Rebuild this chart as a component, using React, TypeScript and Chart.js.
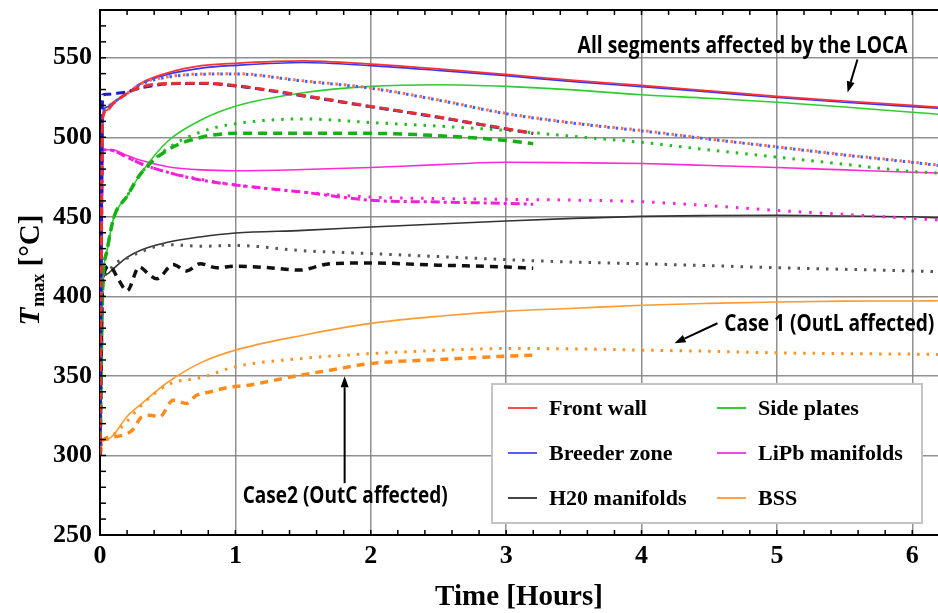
import { useEffect, useRef } from 'react';
import { Chart, registerables } from 'chart.js';
Chart.register(...registerables);

// ---------- data ----------
const xTicks = [0, 1, 2, 3, 4, 5, 6];
const yTicks = [250, 300, 350, 400, 450, 500, 550];

const tLong = [0, 0.02, 0.05, 0.1, 0.2, 0.3, 0.5, 0.75, 1, 1.5, 2, 2.5, 3, 3.5, 4, 4.5, 5, 5.5, 6, 6.19];
const tShort = [0, 0.02, 0.05, 0.1, 0.2, 0.3, 0.5, 0.75, 1, 1.5, 2, 2.5, 3, 3.2];
const tH2OCase2 = [0, 0.02, 0.07, 0.14, 0.2, 0.29, 0.36, 0.42, 0.54, 0.64, 0.74, 0.86, 1.0, 1.25, 1.47, 1.7, 2, 2.5, 3, 3.2];
const tBSSCase2 = [0, 0.02, 0.09, 0.17, 0.24, 0.31, 0.37, 0.44, 0.54, 0.64, 0.71, 0.81, 0.96, 1.08, 1.475, 1.7, 2, 2.5, 3, 3.2];

// All segments affected by the LOCA (solid)
const frontAll = [300, 512, 517, 521.5, 527.5, 534, 540.5, 545, 546.5, 548, 546, 543, 539.5, 535.8, 532.6, 529.2, 525.7, 522.8, 520, 519];
const breederAll = [300, 514, 519, 522, 527.5, 533.5, 539.5, 543.5, 545.2, 547, 545, 542, 538.7, 535, 531.8, 528.5, 525, 522, 519.3, 518.3];
const sideAll = [300, 405, 428, 449, 463, 477, 497.5, 511, 519.5, 528, 532, 533, 532, 529.8, 526.7, 524.5, 522, 519, 515.7, 514.5];
const lipbAll = [300, 492, 492.2, 492, 488.5, 485.5, 481.5, 479.5, 479, 479.7, 481, 482.8, 484.3, 484, 483.5, 482.3, 481, 479.5, 478, 477.5];
const h2oAll = [300, 410, 414, 417.5, 424.5, 429, 434, 437.5, 439.8, 441.5, 443.6, 445.5, 447.4, 449, 450.3, 450.8, 451, 450.5, 450, 449.5];
const bssAll = [300, 309.6, 310, 313, 324.5, 332, 346, 358.5, 366.2, 375.6, 383, 387.5, 390.7, 392.5, 394.4, 395.6, 396.5, 397, 397.1, 397.2];

// Case 1 (OutL affected) (dotted)
const frontCase1 = [300, 512, 517, 521.5, 527.5, 533.5, 538, 539.8, 540, 535.5, 531, 523.5, 515, 509, 504.3, 499, 494, 489, 484.4, 482.5];
const breederCase1 = [300, 514, 519, 522, 527.5, 533.3, 537.8, 539.6, 539.8, 535.3, 530.8, 523.3, 514.8, 508.8, 504, 498.8, 493.8, 488.8, 484.2, 482.3];
const sideCase1 = [300, 405, 428, 449, 463, 477, 493, 503.5, 508.5, 511.5, 509.3, 507, 504.3, 500.5, 496.8, 492, 487.5, 483, 478.5, 477.5];
const lipbCase1 = [300, 492, 492.2, 491.5, 487.5, 483.5, 478, 473.5, 470, 465.5, 462.4, 461.5, 461, 460.5, 459.5, 457, 454, 451.5, 449, 448];
const h2oCase1 = [300, 410, 414, 420, 424, 428, 432.5, 431.5, 432, 428.7, 426.9, 425, 423.1, 421.5, 420.5, 419.3, 418, 417, 416, 415.5];
const bssCase1 = [300, 309.6, 310, 313, 321.5, 331, 344.5, 349, 355.8, 361, 364, 366, 367.2, 367, 366.2, 365.5, 364.5, 364, 363.7, 363.5];

// Case 2 (OutC affected) (dashed)
const frontCase2 = [300, 512, 517, 521.5, 527.5, 531.5, 533.8, 534, 532.5, 526.3, 519.4, 512.7, 505.4, 502.6];
const breederCase2 = [300, 526.5, 527, 527.4, 528.5, 531, 533.5, 533.8, 532.3, 526, 519.2, 512.5, 505.2, 502.4];
const sideCase2 = [300, 405, 428, 449, 463, 477, 492, 500, 502.5, 502.6, 502.5, 501, 498, 496];
const lipbCase2 = [300, 492, 492.2, 491.5, 487.5, 483.5, 478, 473, 470, 465.5, 460.4, 459.3, 458.4, 457.9];
const h2oCase2 = [300, 410, 419, 410, 403.5, 418.5, 414, 411, 420, 416, 420.5, 418, 419, 418, 416.5, 420.5, 421, 419.6, 418.5, 417.6];
const bssCase2 = [300, 309.6, 311.7, 312.8, 316, 324.4, 325.3, 324.3, 334.7, 332.7, 337.7, 339.9, 343, 344, 350.4, 353.6, 357.8, 360.3, 362.4, 363];

const legendLabels = ['Front wall', 'Breeder zone', 'H20 manifolds', 'Side plates', 'LiPb manifolds', 'BSS'];
const legendColors = ['#ff4a4a', '#5a5aff', '#444444', '#33cc33', '#ff44ee', '#ffa04a'];

// ---------- helpers ----------
const SERIF = '"Liberation Serif", "Times New Roman", serif';
const SANS = '"Open Sans", "Liberation Sans", sans-serif';

const pts = (t: number[], v: number[]) => t.map((x, i) => ({ x, y: v[i] }));

function mk(label: string, t: number[], v: number[], color: string, width: number, dash: number[] = [], offset = 0) {
  return {
    label,
    data: pts(t, v),
    borderColor: color,
    backgroundColor: color,
    borderWidth: width,
    borderDash: dash,
    borderDashOffset: offset,
    pointRadius: 0,
    fill: false,
    cubicInterpolationMode: 'monotone' as const,
  };
}

function arrow(ctx: CanvasRenderingContext2D, x1: number, y1: number, x2: number, y2: number) {
  const head = 11, w = 8;
  const ang = Math.atan2(y2 - y1, x2 - x1);
  const bx = x2 - head * Math.cos(ang), by = y2 - head * Math.sin(ang);
  ctx.beginPath();
  ctx.moveTo(x1, y1);
  ctx.lineTo(bx, by);
  ctx.stroke();
  ctx.beginPath();
  ctx.moveTo(x2, y2);
  ctx.lineTo(bx + (w / 2) * Math.sin(ang), by - (w / 2) * Math.cos(ang));
  ctx.lineTo(bx - (w / 2) * Math.sin(ang), by + (w / 2) * Math.cos(ang));
  ctx.closePath();
  ctx.fill();
}

function fitText(ctx: CanvasRenderingContext2D, text: string, x: number, y: number, width: number) {
  const m = ctx.measureText(text).width;
  ctx.save();
  ctx.translate(x, y);
  ctx.scale(width / m, 1);
  ctx.fillText(text, 0, 0);
  ctx.restore();
}

const decorPlugin = {
  id: 'decor',
  afterDatasetsDraw(chart: any) {
    const { ctx, chartArea: a, scales } = chart;
    const xs = scales.x, ys = scales.y;
    ctx.save();
    ctx.strokeStyle = '#000';
    ctx.lineWidth = 1.5;
    for (let i = 0; i <= 31; i++) {
      const v = i * 0.2;
      if (v > xs.max) break;
      const px = xs.getPixelForValue(v);
      ctx.beginPath();
      ctx.moveTo(px, a.bottom);
      ctx.lineTo(px, a.bottom - 5);
      ctx.moveTo(px, a.top);
      ctx.lineTo(px, a.top + 5);
      ctx.stroke();
    }
    for (let v = 250; v <= 580; v += 10) {
      const py = ys.getPixelForValue(v);
      ctx.beginPath();
      ctx.moveTo(a.left, py);
      ctx.lineTo(a.left + 6, py);
      ctx.stroke();
    }
    ctx.lineWidth = 2;
    ctx.beginPath();
    ctx.moveTo(a.left, a.top);
    ctx.lineTo(a.right, a.top);
    ctx.stroke();
    ctx.restore();
  },
  afterDraw(chart: any) {
    const { ctx, chartArea: a, scales } = chart;
    const xs = scales.x, ys = scales.y;
    const X = (v: number) => xs.getPixelForValue(v);
    const Y = (v: number) => ys.getPixelForValue(v);
    ctx.save();

    // legend box
    const lx = 492, ly = 384, lw = 430, lh = 139;
    ctx.fillStyle = '#fff';
    ctx.fillRect(lx, ly, lw, lh);
    ctx.strokeStyle = '#c4c4c4';
    ctx.lineWidth = 2;
    ctx.strokeRect(lx, ly, lw, lh);
    ctx.font = `bold 22px ${SERIF}`;
    ctx.textBaseline = 'middle';
    ctx.textAlign = 'left';
    legendLabels.forEach((lab, i) => {
      const col = Math.floor(i / 3), row = i % 3;
      const y = ly + 24 + row * 45;
      const x0 = lx + 16 + col * 209;
      ctx.strokeStyle = legendColors[i];
      ctx.lineWidth = 2;
      ctx.beginPath();
      ctx.moveTo(x0, y);
      ctx.lineTo(x0 + 29, y);
      ctx.stroke();
      ctx.fillStyle = '#000';
      ctx.fillText(lab, x0 + 41, y + 1);
    });

    // annotations
    ctx.fillStyle = '#000';
    ctx.strokeStyle = '#000';
    ctx.lineWidth = 2;
    ctx.textBaseline = 'alphabetic';
    ctx.font = `bold 23px ${SANS}`;
    fitText(ctx, 'All segments affected by the LOCA', X(3.528), Y(552.7), 330);
    arrow(ctx, X(5.595), Y(548.9), X(5.522), Y(528.2));
    fitText(ctx, 'Case 1 (OutL affected)', X(4.612), Y(378.1), 210);
    arrow(ctx, X(4.561), Y(383.1), X(4.244), Y(370.5));
    fitText(ctx, 'Case2 (OutC affected)', X(1.054), Y(270), 205);
    arrow(ctx, X(1.807), Y(282.6), X(1.807), Y(349.8));

    // x title
    ctx.textAlign = 'center';
    ctx.font = `bold 29px ${SERIF}`;
    ctx.fillText('Time [Hours]', (a.left + a.right) / 2, 605);

    // y title
    ctx.save();
    ctx.translate(39, (a.top + a.bottom) / 2 - 2);
    ctx.rotate(-Math.PI / 2);
    ctx.textAlign = 'left';
    const fMain = `bold 29px ${SERIF}`;
    const fIt = `italic bold 29px ${SERIF}`;
    const fSub = `bold 18px ${SERIF}`;
    ctx.font = fIt; const wT = ctx.measureText('T').width;
    ctx.font = fSub; const wS = ctx.measureText('max').width;
    ctx.font = fMain; const wR = ctx.measureText(' [°C]').width;
    let cx = -(wT + wS + wR) / 2;
    ctx.font = fIt; ctx.fillText('T', cx, 0); cx += wT + 1;
    ctx.font = fSub; ctx.fillText('max', cx, 5); cx += wS;
    ctx.font = fMain; ctx.fillText(' [°C]', cx, 0);
    ctx.restore();

    ctx.restore();
  },
};

export default function App() {
  const ref = useRef<HTMLCanvasElement | null>(null);
  useEffect(() => {
    document.body.style.margin = '0';
    if (!ref.current) return;
    const datasets = [
      mk('Front wall - Case 2', tShort, frontCase2, '#e83030', 3, [9, 5]),
      mk('Breeder zone - Case 2', tShort, breederCase2, '#1a1acc', 3, [9, 5], 4),
      mk('Side plates - Case 2', tShort, sideCase2, '#14b014', 3.5, [9, 6]),
      mk('LiPb manifolds - Case 2', tShort, lipbCase2, '#f020d8', 3, [9, 4, 3, 4]),
      mk('H20 manifolds - Case 2', tH2OCase2, h2oCase2, '#111111', 3.5, [8, 6]),
      mk('BSS - Case 2', tBSSCase2, bssCase2, '#ff8c1a', 3.5, [8, 6]),
      mk('Front wall - Case 1', tLong, frontCase1, '#ff6a50', 3, [2.5, 6]),
      mk('Breeder zone - Case 1', tLong, breederCase1, '#4060ff', 3, [2.5, 6], 4.2),
      mk('Side plates - Case 1', tLong, sideCase1, '#22bb22', 3, [2.5, 7]),
      mk('LiPb manifolds - Case 1', tLong, lipbCase1, '#ff22dd', 3, [2.5, 8]),
      mk('H20 manifolds - Case 1', tLong, h2oCase1, '#555555', 3, [2.5, 7]),
      mk('BSS - Case 1', tLong, bssCase1, '#ff9020', 3, [2.5, 7]),
      mk('Front wall', tLong, frontAll, '#ff3030', 1.7),
      mk('Breeder zone', tLong, breederAll, '#3434ff', 1.7),
      mk('Side plates', tLong, sideAll, '#2ecc2e', 1.6),
      mk('LiPb manifolds', tLong, lipbAll, '#ff2ad4', 1.6),
      mk('H20 manifolds', tLong, h2oAll, '#333333', 1.6),
      mk('BSS', tLong, bssAll, '#ff9a33', 1.6),
    ];
    const tickFont = { family: SERIF, size: 26, weight: 'bold' as const };
    const chart = new Chart(ref.current, {
      type: 'line',
      data: { datasets },
      options: {
        animation: false,
        responsive: false,
        maintainAspectRatio: false,
        layout: { padding: { top: 10, left: 0, right: 0, bottom: 0 } },
        plugins: { legend: { display: false }, tooltip: { enabled: false } },
        scales: {
          x: {
            type: 'linear',
            min: 0,
            max: 6.19,
            afterBuildTicks: (s: any) => { s.ticks = xTicks.map((value) => ({ value })); },
            afterFit: (s: any) => { s.height = 78; s.paddingLeft = 0; s.paddingRight = 0; },
            grid: { color: 'rgba(125,125,125,0.85)', lineWidth: 1.5, drawTicks: false },
            border: { display: true, color: '#000', width: 2 },
            ticks: { font: tickFont, color: '#000', padding: 6, maxRotation: 0, autoSkip: false },
          },
          y: {
            type: 'linear',
            min: 250,
            max: 580,
            afterBuildTicks: (s: any) => { s.ticks = yTicks.map((value) => ({ value })); },
            afterFit: (s: any) => { s.width = 100; s.paddingTop = 0; s.paddingBottom = 0; },
            grid: { color: 'rgba(125,125,125,0.85)', lineWidth: 1.5, drawTicks: false },
            border: { display: true, color: '#000', width: 2 },
            ticks: { font: tickFont, color: '#000', padding: 8, autoSkip: false },
          },
        },
      },
      plugins: [decorPlugin],
    });
    return () => chart.destroy();
  }, []);
  return (
    <div style={{ width: 938, height: 613, background: '#fff' }}>
      <canvas ref={ref} width={938} height={613} style={{ display: 'block' }} />
    </div>
  );
}
